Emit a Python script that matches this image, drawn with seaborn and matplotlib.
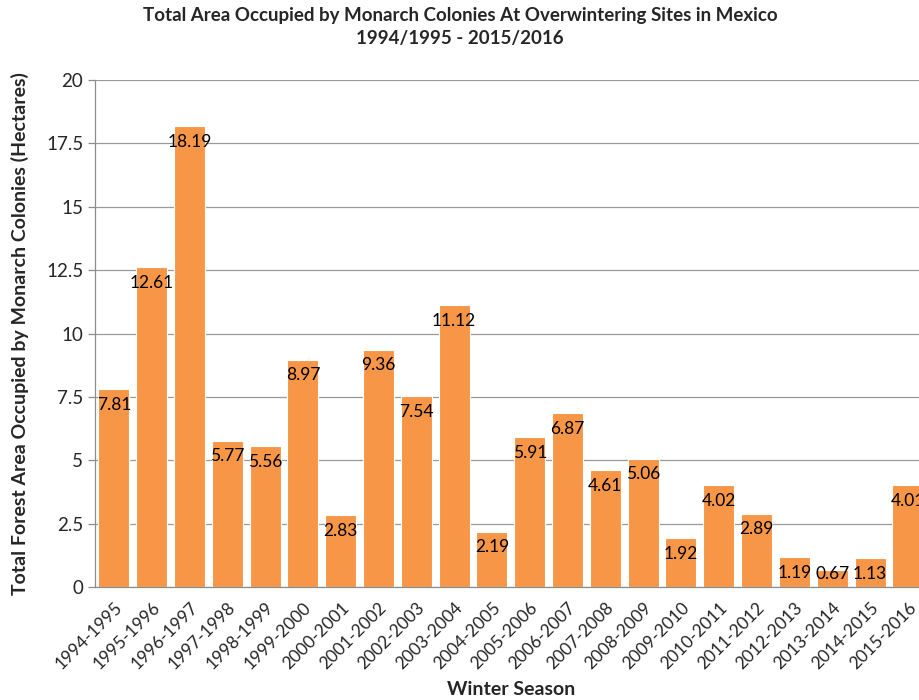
import matplotlib.pyplot as plt
import numpy as np
import pandas as pd
import seaborn as sns

# Data
seasons = ['1994-1995', '1995-1996', '1996-1997', '1997-1998', '1998-1999',
           '1999-2000', '2000-2001', '2001-2002', '2002-2003', '2003-2004',
           '2004-2005', '2005-2006', '2006-2007', '2007-2008', '2008-2009',
           '2009-2010', '2010-2011', '2011-2012', '2012-2013', '2013-2014',
           '2014-2015', '2015-2016']
hectares = [7.81, 12.61, 18.19, 5.77, 5.56, 8.97, 2.83, 9.36, 7.54, 11.12,
            2.19, 5.91, 6.87, 4.61, 5.06, 1.92, 4.02, 2.89, 1.19, 0.67,
            1.13, 4.01]
y_ticks = [0, 2.5, 5, 7.5, 10, 12.5, 15, 17.5, 20]
y_tick_labels = ['0', '2.5', '5', '7.5', '10', '12.5', '15', '17.5', '20']

df = pd.DataFrame({'Winter Season': seasons, 'Hectares': hectares})

sns.set_style('white')
plt.rcParams['font.family'] = ['Lato', 'DejaVu Sans']

fig = plt.figure(figsize=(9.2, 7), dpi=100)
# right edge runs past the figure, like the cropped original
ax = fig.add_axes([0.1033, 0.1614, 0.904, 0.7243])

sns.barplot(data=df, x='Winter Season', y='Hectares', color='#F79646',
            saturation=1, width=0.82, edgecolor='white', linewidth=0.8, ax=ax)

ax.set_ylim(0, 20)
ax.set_xlim(-0.5, len(seasons) - 0.5)
ax.set_yticks(y_ticks)
ax.set_yticklabels(y_tick_labels, fontsize=13.5)
ax.yaxis.grid(True, color='#9a9a9a', linewidth=0.9)
ax.set_axisbelow(True)

# labels on category centres, ticks on category boundaries
ax.set_xticks(range(len(seasons)))
ax.set_xticklabels(seasons, rotation=45, ha='right', rotation_mode='anchor', fontsize=12.5)
ax.set_xticks(np.arange(-0.5, len(seasons)), minor=True)
ax.tick_params(axis='x', which='major', length=0, pad=9)
ax.tick_params(axis='x', which='minor', length=5, color='#8c8c8c', width=0.9)
ax.tick_params(axis='y', length=5, color='#8c8c8c', width=0.9, left=True)

for side in ['top', 'right']:
    ax.spines[side].set_visible(False)
for side in ['left', 'bottom']:
    ax.spines[side].set_color('#8c8c8c')
    ax.spines[side].set_linewidth(0.9)

# value labels near the inside top of each bar
for i, v in enumerate(hectares):
    ax.text(i, max(v - 0.62, 0.5), f'{v:.2f}', ha='center', va='center',
            fontsize=12.5, color='black', clip_on=False)

ax.set_xlabel('Winter Season', fontsize=14, fontweight='bold', labelpad=6)
ax.set_ylabel('Total Forest Area Occupied by Monarch Colonies (Hectares)',
              fontsize=14, fontweight='bold', labelpad=12)
fig.suptitle('Total Area Occupied by Monarch Colonies At Overwintering Sites in Mexico\n'
             '1994/1995 - 2015/2016', fontsize=13.5, fontweight='bold', y=0.99,
             linespacing=1.4)

fig.savefig('out.png', dpi=100)
